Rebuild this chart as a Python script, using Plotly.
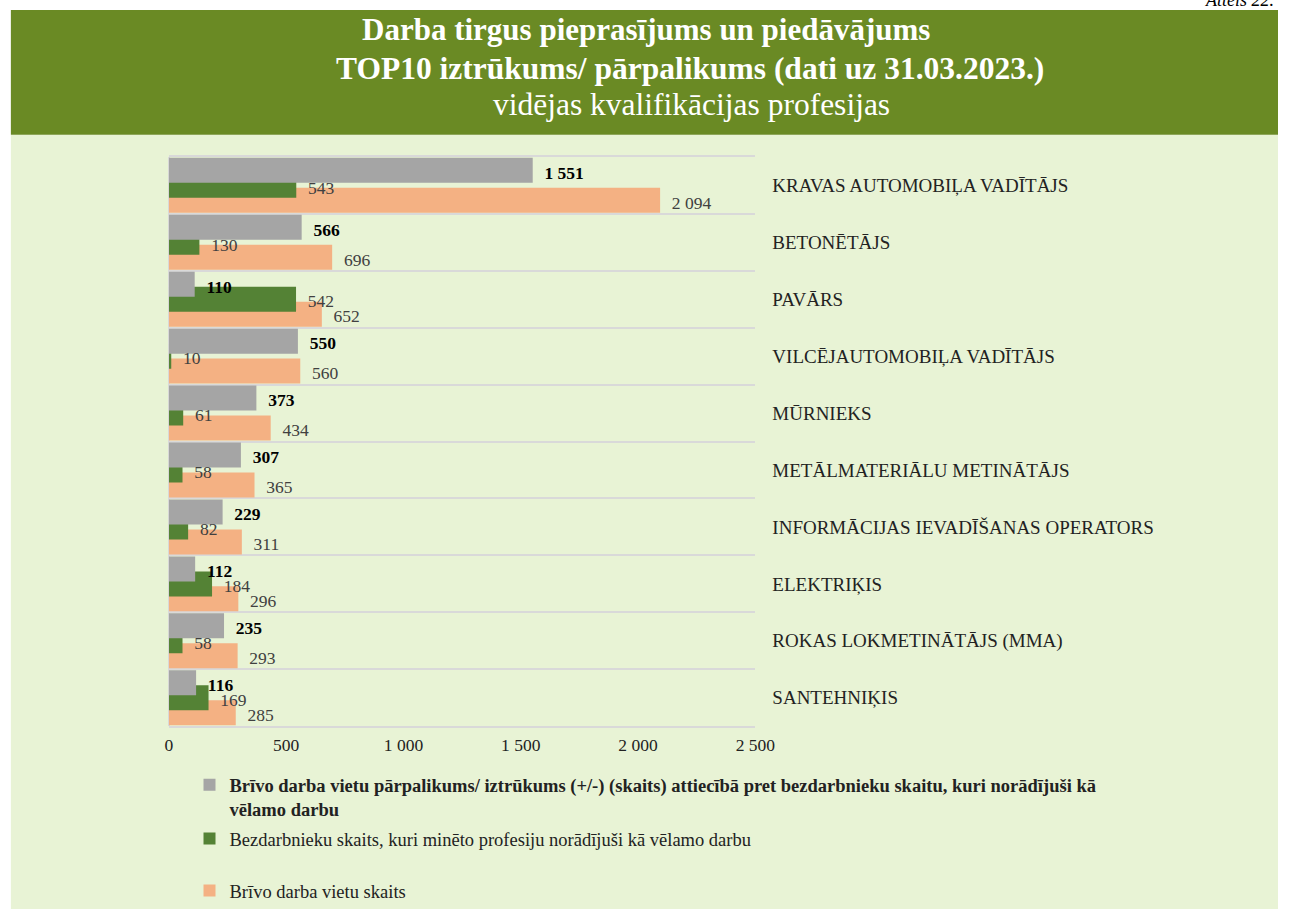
import plotly.graph_objects as go

W, H = 1298, 910

categories = [
    "KRAVAS AUTOMOBIĻA VADĪTĀJS",
    "BETONĒTĀJS",
    "PAVĀRS",
    "VILCĒJAUTOMOBIĻA VADĪTĀJS",
    "MŪRNIEKS",
    "METĀLMATERIĀLU METINĀTĀJS",
    "INFORMĀCIJAS IEVADĪŠANAS OPERATORS",
    "ELEKTRIĶIS",
    "ROKAS LOKMETINĀTĀJS (MMA)",
    "SANTEHNIĶIS",
]
gap_values = [1551, 566, 110, 550, 373, 307, 229, 112, 235, 116]
unemployed_values = [543, 130, 542, 10, 61, 58, 82, 184, 58, 169]
vacancy_values = [2094, 696, 652, 560, 434, 365, 311, 296, 293, 285]
x_ticks = [0, 500, 1000, 1500, 2000, 2500]

name_gap = ("<b>Brīvo darba vietu pārpalikums/ iztrūkums (+/-) (skaits) attiecībā pret "
            "bezdarbnieku skaitu, kuri norādījuši kā<br>vēlamo darbu</b>")
name_unemp = "Bezdarbnieku skaits, kuri minēto profesiju norādījuši kā vēlamo darbu"
name_vac = "Brīvo darba vietu skaits"

SERIF = "Liberation Serif, Times New Roman, serif"
C_GRAY = "#A5A5A5"
C_GREEN = "#548235"
C_ORANGE = "#F4B183"
C_HEADER = "#6A8A24"
C_BG = "#E8F3D5"

def px_x(p):
    return p / W

def px_y(p):
    return 1 - p / H

series = [
    # values, name, color, offset, legend, label template, label colour
    (vacancy_values, name_vac, C_ORANGE, 0.044, "legend3", "%{x:,}", "#404040"),
    (unemployed_values, name_unemp, C_GREEN, -0.219, "legend2", "%{x:,}", "#404040"),
    (gap_values, name_gap, C_GRAY, -0.482, "legend", "<b>%{x:,}</b>", "#000000"),
]
BAR_W = 0.439
NB = "\u00a0\u00a0"

fig = go.Figure()
# bars: orange at the bottom, green, gray on top
for vals, name, color, off, leg, tpl, tcol in series:
    fig.add_trace(go.Bar(
        y=categories, x=vals, orientation="h", name=name,
        marker=dict(color=color, line=dict(width=0)),
        offset=off, width=BAR_W, legend=leg, hoverinfo="skip",
    ))
# data labels drawn above all bars (transparent carrier bars)
for vals, name, color, off, leg, tpl, tcol in series:
    fig.add_trace(go.Bar(
        y=categories, x=vals, orientation="h", name=name,
        marker=dict(color="rgba(0,0,0,0)", line=dict(width=0)),
        offset=off + 0.04, width=BAR_W, showlegend=False, hoverinfo="skip",
        texttemplate=NB + tpl, textposition="outside", cliponaxis=False,
        textfont=dict(family=SERIF, size=17.5, color=tcol),
    ))

legend_common = dict(
    x=px_x(189), xanchor="left", yanchor="top",
    bgcolor="rgba(0,0,0,0)", borderwidth=0,
    font=dict(family=SERIF, size=18.5, color="#222222"),
    valign="top", itemwidth=30,
)

fig.update_layout(
    width=W, height=H,
    margin=dict(l=0, r=0, t=0, b=0),
    paper_bgcolor="#FFFFFF",
    plot_bgcolor="rgba(0,0,0,0)",
    barmode="overlay",
    separators=", ",
    showlegend=True,
    legend=dict(y=px_y(767), **legend_common),
    legend2=dict(y=px_y(821), **legend_common),
    legend3=dict(y=px_y(873), **legend_common),
    xaxis=dict(
        domain=[px_x(168), px_x(765.5)],
        range=[0, 2500], tickvals=x_ticks, tickformat=",d",
        showgrid=False, zeroline=True, zerolinecolor="#D9D9D9", zerolinewidth=1.5,
        showline=True, mirror=True, linecolor="#D9D9D9", linewidth=2,
        ticks="", ticklabelstandoff=2,
        tickfont=dict(family=SERIF, size=17.5, color="#222222"),
    ),
    yaxis=dict(
        domain=[px_y(727), px_y(157)],
        type="category", categoryorder="array", categoryarray=categories,
        range=[9.5, -0.5], side="right", tickson="boundaries",
        showgrid=True, gridcolor="#D9D9D9", gridwidth=2,
        ticks="", ticklabelstandoff=16, showline=False, zeroline=False,
        tickfont=dict(family=SERIF, size=19, color="#222222"),
    ),
    shapes=[
        dict(type="rect", xref="paper", yref="paper", layer="below",
             x0=px_x(7), x1=1, y0=0, y1=px_y(135),
             fillcolor=C_BG, line=dict(width=0)),
        dict(type="rect", xref="paper", yref="paper", layer="below",
             x0=px_x(7), x1=1, y0=px_y(135), y1=px_y(10),
             fillcolor=C_HEADER, line=dict(width=0)),
    ],
    annotations=[
        dict(text="<b>Darba tirgus pieprasījums un piedāvājums</b>",
             x=px_x(654), y=px_y(30), xref="paper", yref="paper",
             xanchor="center", yanchor="middle", showarrow=False,
             font=dict(family=SERIF, size=31, color="#FFFFFF")),
        dict(text="<b>TOP10 iztrūkums/ pārpalikums (dati uz 31.03.2023.)</b>",
             x=px_x(699), y=px_y(69), xref="paper", yref="paper",
             xanchor="center", yanchor="middle", showarrow=False,
             font=dict(family=SERIF, size=31.5, color="#FFFFFF")),
        dict(text="vidējas kvalifikācijas profesijas",
             x=px_x(700), y=px_y(105), xref="paper", yref="paper",
             xanchor="center", yanchor="middle", showarrow=False,
             font=dict(family=SERIF, size=31.5, color="#FFFFFF")),
        dict(text="<i>Attēls 22.</i>",
             x=px_x(1296), y=px_y(12), xref="paper", yref="paper",
             xanchor="right", yanchor="bottom", showarrow=False,
             font=dict(family=SERIF, size=18, color="#000000")),
    ],
)

fig.write_html(
    "out.html",
    config={"displayModeBar": False},
    post_script="document.body.style.margin='0';document.body.style.overflow='hidden';",
)
